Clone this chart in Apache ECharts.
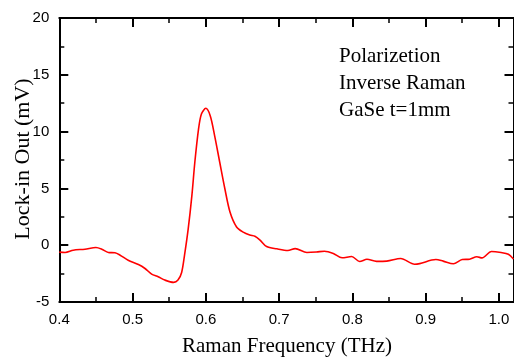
<!DOCTYPE html>
<html>
<head>
<meta charset="utf-8">
<script src="https://cdn.jsdelivr.net/npm/echarts@6/dist/echarts.min.js"></script>
<style>
html,body{margin:0;padding:0;background:#fff;}
#c{width:514px;height:359px;}
</style>
</head>
<body>
<div id="c"></div>
<script>
var frequency = [0.400,0.408,0.419,0.435,0.450,0.458,0.467,0.476,0.483,0.494,0.508,0.517,0.526,0.535,0.544,0.556,0.562,0.567,0.571,0.576,0.581,0.585,0.590,0.594,0.600,0.606,0.612,0.619,0.626,0.633,0.642,0.651,0.660,0.667,0.674,0.683,0.697,0.712,0.722,0.738,0.751,0.762,0.774,0.786,0.799,0.810,0.820,0.833,0.847,0.866,0.885,0.892,0.914,0.924,0.938,0.950,0.960,0.970,0.977,0.990,1.003,1.013,1.020];
var lockInOut = [-0.61,-0.64,-0.44,-0.35,-0.20,-0.35,-0.64,-0.67,-0.88,-1.32,-1.70,-2.05,-2.54,-2.78,-3.07,-3.27,-3.07,-2.40,-0.85,1.46,4.39,7.30,10.2,11.55,12.05,11.40,9.65,7.30,4.97,2.92,1.60,1.15,0.90,0.79,0.45,-0.12,-0.32,-0.46,-0.30,-0.64,-0.60,-0.53,-0.73,-1.11,-1.00,-1.43,-1.24,-1.42,-1.40,-1.17,-1.68,-1.62,-1.26,-1.40,-1.63,-1.26,-1.23,-1.02,-1.12,-0.56,-0.65,-0.80,-1.22];
var annotationLines = ['Polarizetion','Inverse Raman','GaSe t=1mm'];
var xTitle = 'Raman Frequency (THz)';
var yTitle = 'Lock-in Out (mV)';

var pts = frequency.map(function(f,i){return [f, lockInOut[i]];});
var chart = echarts.init(document.getElementById('c'), null, {renderer:'canvas'});
var axisLineStyle = {color:'#000', width:2};
var tickFont = {fontFamily:'Liberation Sans', fontSize:15, color:'#000'};
var serif = '"Liberation Serif", "Times New Roman", serif';
function xa(pos, show){
  return {
    type:'value', position:pos, min:0.4, max:1.02, interval:0.1,
    axisLine:{show:true, onZero:false, lineStyle:axisLineStyle},
    axisTick:{show:true, inside:true, length:9, lineStyle:{color:'#000', width:2}},
    minorTick:{show:true, splitNumber:2, length:5, lineStyle:{color:'#000', width:1.5}},
    splitLine:{show:false},
    axisLabel:Object.assign({show:show, margin:10, showMaxLabel:false, formatter:function(v){return v.toFixed(1);}}, tickFont)
  };
}
function ya(pos, show){
  return {
    type:'value', position:pos, min:-5, max:20, interval:5,
    axisLine:{show:true, onZero:false, lineStyle:axisLineStyle},
    axisTick:{show:true, inside:true, length:9, lineStyle:{color:'#000', width:2}},
    minorTick:{show:true, splitNumber:2, length:5, lineStyle:{color:'#000', width:1.5}},
    splitLine:{show:false},
    axisLabel:Object.assign({show:show, margin:10}, tickFont)
  };
}
var graphics = annotationLines.map(function(t,i){
  return {type:'text', x:339, y:56 + i*27, style:{text:t, font:'21px ' + serif, fill:'#000', textAlign:'left', textVerticalAlign:'middle'}};
});
graphics.push({type:'text', x:287, y:346, style:{text:xTitle, font:'21px ' + serif, fill:'#000', textAlign:'center', textVerticalAlign:'middle'}});
graphics.push({type:'text', x:23, y:159, rotation:Math.PI/2, style:{text:yTitle, font:'22px ' + serif, fill:'#000', textAlign:'center', textVerticalAlign:'middle'}});
chart.setOption({
  animation:false,
  backgroundColor:'#fff',
  grid:{left:59.3, right:0.5, top:18, bottom:57, containLabel:false, outerBoundsMode:'none'},
  xAxis:[xa('bottom', true), xa('top', false)],
  yAxis:[ya('left', true), ya('right', false)],
  graphic: graphics,
  series:[{
    type:'line', xAxisIndex:0, yAxisIndex:0, data:pts, smooth:0.3, showSymbol:false,
    lineStyle:{color:'#ff0000', width:1.6}
  }]
});
</script>
</body>
</html>
